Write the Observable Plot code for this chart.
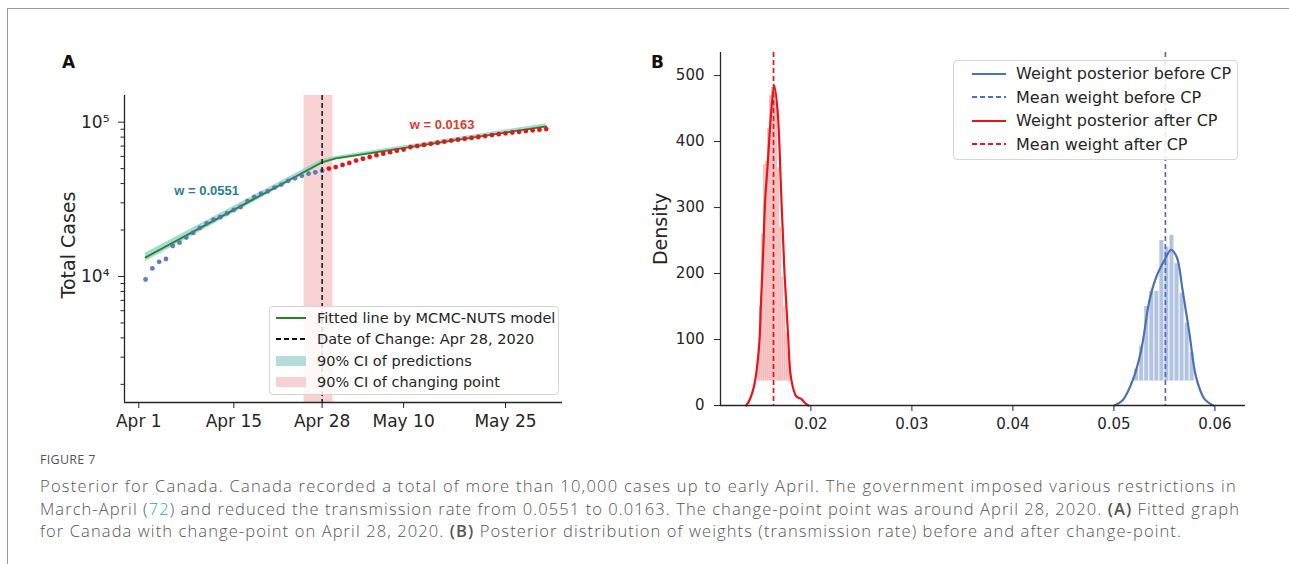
<!DOCTYPE html>
<html><head><meta charset="utf-8">
<script src="https://cdn.jsdelivr.net/npm/d3@7"></script>
<script src="https://cdn.jsdelivr.net/npm/@observablehq/plot@0.6"></script>
<style>
body{margin:0;background:#fff;width:1289px;height:564px;overflow:hidden;position:relative;font-family:"DejaVu Sans",sans-serif;}
#frame{position:absolute;left:7px;top:8px;width:1290px;height:560px;border-left:1px solid #9a9a9a;border-top:1px solid #9a9a9a;}
.panel{position:absolute;top:0;}
.letter{position:absolute;font-weight:bold;font-size:17px;color:#111;}
.legend{position:absolute;background:rgba(255,255,255,0.85);border:1px solid #d6d6d6;border-radius:4px;color:#262626;}
.legend .row{position:absolute;display:flex;align-items:center;white-space:nowrap;}
.legend svg{display:block;}
#caption{position:absolute;left:40px;top:451px;color:#555;font-family:"Open Sans",sans-serif;}
#caption .fig{font-size:12.5px;letter-spacing:0.3px;height:24px;}
#caption .ln{font-size:16.5px;line-height:22.5px;height:22.5px;white-space:nowrap;font-weight:300;}
#caption .ln span{display:inline-block;line-height:20px;}
#caption a{color:#1aa3c8;text-decoration:none;}
#caption b{font-weight:600;}
</style></head>
<body>
<div id="frame"></div>
<div id="pa" class="panel" style="left:0"></div>
<div id="pb" class="panel" style="left:620px"></div>
<div class="letter" style="left:62px;top:52px">A</div>
<div class="letter" style="left:651px;top:52px">B</div>
<div id="legA" class="legend" style="left:269px;top:306px;width:288px;height:87px;font-size:14.5px"></div>
<div id="legB" class="legend" style="left:953px;top:60px;width:283px;height:98px;font-size:16px"></div>
<div id="caption">
<div class="fig">FIGURE 7</div>
<div class="ln"><span data-w="1197">Posterior for Canada. Canada recorded a total of more than 10,000 cases up to early April. The government imposed various restrictions in</span></div>
<div class="ln"><span data-w="1200">March-April (<a>72</a>) and reduced the transmission rate from 0.0551 to 0.0163. The change-point point was around April 28, 2020. <b>(A)</b> Fitted graph</span></div>
<div class="ln"><span data-w="1142">for Canada with change-point on April 28, 2020. <b>(B)</b> Posterior distribution of weights (transmission rate) before and after change-point.</span></div>
</div>
<script>
// ---------- Panel A data ----------
const caseDates = ["2020-04-02","2020-04-03","2020-04-04","2020-04-05","2020-04-06","2020-04-07","2020-04-08","2020-04-09","2020-04-10","2020-04-11",
"2020-04-12","2020-04-13","2020-04-14","2020-04-15","2020-04-16","2020-04-17","2020-04-18","2020-04-19","2020-04-20","2020-04-21",
"2020-04-22","2020-04-23","2020-04-24","2020-04-25","2020-04-26","2020-04-27","2020-04-28","2020-04-29","2020-04-30","2020-05-01",
"2020-05-02","2020-05-03","2020-05-04","2020-05-05","2020-05-06","2020-05-07","2020-05-08","2020-05-09","2020-05-10","2020-05-11",
"2020-05-12","2020-05-13","2020-05-14","2020-05-15","2020-05-16","2020-05-17","2020-05-18","2020-05-19","2020-05-20","2020-05-21",
"2020-05-22","2020-05-23","2020-05-24","2020-05-25","2020-05-26","2020-05-27","2020-05-28","2020-05-29","2020-05-30","2020-05-31"];
const cases = [9560,11284,12437,12978,15756,16563,17872,19141,20654,22059,
23316,24298,25680,27035,28209,30808,32814,34356,35633,37658,
39402,41650,43286,44919,46371,47327,48500,50026,51150,52865,
54457,56343,57926,59474,61159,62458,63895,65399,66434,68848,
69981,71264,72419,73568,74781,75959,77002,78072,79101,80142,
81324,82480,83621,84699,85711,86647,87519,88512,89418,90179];
const changeDate = "2020-04-28";
const fitDates = ["2020-04-02","2020-04-28","2020-04-30","2020-05-31"];
const fitValues = [13300,55000,58300,94000];
const ciLow = [12500,53000,56800,91500];
const ciHigh = [14200,57400,60000,97800];
const changeCI = ["2020-04-25T08:00Z","2020-04-29T14:00Z"];
const xTickDates = ["2020-04-01","2020-04-15","2020-04-28","2020-05-10","2020-05-25"];
const xTickLabels = ["Apr 1","Apr 15","Apr 28","May 10","May 25"];
const yMajorTicks = [1e4,1e5];
const yMajorLabels = ["10\u2074","10\u2075"];
const yMinorTicks = [2000,3000,4000,5000,6000,7000,8000,9000,20000,30000,40000,50000,60000,70000,80000,90000];
const wBefore = "w = 0.0551", wAfter = "w = 0.0163";

// ---------- Panel B data ----------
const kdeAfterX = [0.01360,0.01392,0.01442,0.01487,0.01507,0.01527,0.01547,0.01572,0.01607,0.01637,0.01670,0.01706,0.01739,0.01772,0.01805,0.01855,0.01904,0.01947,0.01977];
const kdeAfterY = [0,8,33,90,160,230,310,365,445,485,447,321,200,112,40,14,10,3,0];
const kdeBeforeX = [0.05005,0.05087,0.05186,0.05269,0.05352,0.05418,0.05500,0.05566,0.05622,0.05681,0.05748,0.05814,0.05896,0.05985];
const kdeBeforeY = [0,8,38,83,159,194,220,236,225,174,109,43,10,0];
const histAfterX0 = [0.0147,0.0149,0.0151,0.0153,0.0155,0.0157,0.0159,0.0161,0.0163,0.0165,0.0167,0.0169,0.0171,0.0173,0.0175,0.0177,0.0179];
const histAfterH = [70,150,260,365,370,420,470,482,480,460,360,270,195,150,110,80,55];
const histAfterBin = 0.0002;
const histBeforeX0 = [0.0520,0.0525,0.0530,0.0535,0.0540,0.0545,0.0550,0.0555,0.0560,0.0565,0.0570,0.0575];
const histBeforeH = [55,90,150,173,173,250,240,258,215,170,125,80];
const histBeforeBin = 0.0005;
const histFloor = 37;
const meanBefore = 0.0551, meanAfter = 0.0163;
const xTicksB = [0.02,0.03,0.04,0.05,0.06];
const yTicksB = [0,100,200,300,400,500];

// ---------- colours ----------
const BLUE = "#4c72b0", RED = "#e8141b", GREEN = "#1c8a1c", TEAL = "#8ccbc8", PINK = "#f8d2d2";
const INK = "#262626";

// ---------- Panel A ----------
const caseData = caseDates.map((d,i)=>({date:new Date(d), v:cases[i]}));
const cd = new Date(changeDate);
const fitData = fitDates.map((d,i)=>({date:new Date(d), fit:fitValues[i], lo:ciLow[i], hi:ciHigh[i]}));
const xDomA = [new Date("2020-03-29T21:30Z"), new Date("2020-06-02T09:30Z")];
const yDomA = [1525, 148900];
const xTickObjs = xTickDates.map(d=>new Date(d));
const fmtXA = d => xTickLabels[xTickObjs.findIndex(t=>+t===+d)];
const fmtYA = d => { const k = yMajorTicks.findIndex(t=>Math.abs(t-d)<1e-6*t); return k<0 ? "" : yMajorLabels[k]; };

const chartA = Plot.plot({
  width: 620, height: 440,
  marginLeft: 124, marginRight: 58, marginTop: 95, marginBottom: 38,
  x: {type: "utc", domain: xDomA},
  y: {type: "log", domain: yDomA},
  style: {fontFamily: "DejaVu Sans", color: INK, background: "transparent"},
  marks: [
    Plot.rect([changeCI], {x1: d=>new Date(d[0]), x2: d=>new Date(d[1]), fill: PINK}),
    Plot.areaY(fitData, {x: "date", y1: "lo", y2: "hi", fill: TEAL, fillOpacity: 0.75}),
    Plot.line(fitData, {x: "date", y: "fit", stroke: GREEN, strokeWidth: 1.8}),
    Plot.dot(caseData, {filter: d=>d.date<=cd, x: "date", y: "v", r: 2.4, fill: BLUE, fillOpacity: 0.9}),
    Plot.dot(caseData, {filter: d=>d.date>cd, x: "date", y: "v", r: 2.4, fill: RED}),
    Plot.ruleX([cd], {stroke: "#111", strokeWidth: 1.5, strokeDasharray: "5,3"}),
    Plot.text([wBefore], {x: new Date("2020-04-11T00:00Z"), y: 35700, text: d=>d, fill: "#2b7d98", fontWeight: "bold", fontSize: 13, fontFamily: "Liberation Sans"}),
    Plot.text([wAfter], {x: new Date("2020-05-15T16:00Z"), y: 96600, text: d=>d, fill: "#df3a2c", fontWeight: "bold", fontSize: 13, fontFamily: "Liberation Sans"}),
    Plot.ruleX([xDomA[0]], {stroke: INK, strokeWidth: 1.3}),
    Plot.ruleY([yDomA[0]], {stroke: INK, strokeWidth: 1.3}),
    Plot.axisX({ticks: xTickObjs, tickFormat: fmtXA, tickSize: 6, tickPadding: 6, fontSize: 17, label: null}),
    Plot.axisY({ticks: yMajorTicks, tickFormat: fmtYA, tickSize: 6, tickPadding: 9, fontSize: 17, label: null}),
    Plot.axisY({ticks: yMinorTicks, tickFormat: ()=>"", tickSize: 3.5, label: null}),
    Plot.text(["Total Cases"], {frameAnchor: "left", textAnchor: "middle", rotate: -90, dx: -56, dy: -4, fontSize: 19, fill: INK})
  ]
});
document.getElementById("pa").appendChild(chartA);

// ---------- Panel B ----------
const kdeAfter = kdeAfterX.map((x,i)=>({x, y:kdeAfterY[i]}));
const kdeBefore = kdeBeforeX.map((x,i)=>({x, y:kdeBeforeY[i]}));
const binsAfter = histAfterX0.map((x,i)=>({x1:x, x2:x+histAfterBin, h:histAfterH[i]}));
const binsBefore = histBeforeX0.map((x,i)=>({x1:x, x2:x+histBeforeBin, h:histBeforeH[i]}));
const xDomB = [0.01105, 0.06303];
const chartB = Plot.plot({
  width: 669, height: 440,
  marginLeft: 100, marginRight: 44, marginTop: 52, marginBottom: 35,
  x: {domain: xDomB},
  y: {domain: [0, 535]},
  style: {fontFamily: "DejaVu Sans", color: INK, background: "transparent"},
  marks: [
    Plot.rect(binsAfter, {x1: "x1", x2: "x2", y1: histFloor, y2: "h", fill: "#f5b3b3", insetLeft: 0.2, insetRight: 0.2}),
    Plot.rect(binsBefore, {x1: "x1", x2: "x2", y1: histFloor, y2: "h", fill: "#b3c4e2", insetLeft: 0.5, insetRight: 0.5}),
    Plot.line(kdeAfter, {x: "x", y: "y", stroke: RED, strokeWidth: 2.2, curve: "catmull-rom"}),
    Plot.line(kdeBefore, {x: "x", y: "y", stroke: BLUE, strokeWidth: 2.2, curve: "catmull-rom"}),
    Plot.ruleX([meanAfter], {stroke: RED, strokeWidth: 1.7, strokeDasharray: "5,3"}),
    Plot.ruleX([meanBefore], {stroke: BLUE, strokeWidth: 1.7, strokeDasharray: "5,3"}),
    Plot.ruleX([xDomB[0]], {stroke: INK, strokeWidth: 1.3}),
    Plot.ruleY([0], {stroke: INK, strokeWidth: 1.3}),
    Plot.axisX({ticks: xTicksB, tickFormat: d3.format(".2f"), tickSize: 6, tickPadding: 7, fontSize: 15, label: null}),
    Plot.axisY({ticks: yTicksB, tickSize: 6, tickPadding: 10, fontSize: 15, label: null}),
    Plot.text(["Density"], {frameAnchor: "left", textAnchor: "middle", rotate: -90, dx: -60, fontSize: 19, fill: INK})
  ]
});
document.getElementById("pb").appendChild(chartB);

// ---------- Legends ----------
function sample(kind, color, w){
  const h = 12;
  if (kind === "patch") return `<svg width="${w}" height="${h}"><rect x="0" y="1" width="${w}" height="10" fill="${color}"/></svg>`;
  const dash = kind === "dash" ? ' stroke-dasharray="5,3"' : '';
  return `<svg width="${w}" height="${h}"><line x1="0" x2="${w}" y1="6" y2="6" stroke="${color}" stroke-width="2"${dash}/></svg>`;
}
const legAItems = [["line",GREEN,"Fitted line by MCMC-NUTS model"],["dash","#111","Date of Change: Apr 28, 2020"],["patch","#b3dcda","90% CI of predictions"],["patch",PINK,"90% CI of changing point"]];
document.getElementById("legA").innerHTML = legAItems.map((it,i)=>
  `<div class="row" style="top:${3+i*21.3}px;height:16px;left:6px">${sample(it[0],it[1],30)}<span style="margin-left:11px">${it[2]}</span></div>`).join("");
const legBItems = [["line",BLUE,"Weight posterior before CP"],["dash",BLUE,"Mean weight before CP"],["line",RED,"Weight posterior after CP"],["dash",RED,"Mean weight after CP"]];
document.getElementById("legB").innerHTML = legBItems.map((it,i)=>
  `<div class="row" style="top:${3+i*23.6}px;height:19px;left:18px">${sample(it[0],it[1],34)}<span style="margin-left:10px">${it[2]}</span></div>`).join("");

// stretch each caption line to the reference line length with letter-spacing
document.querySelectorAll("#caption .ln span").forEach(sp => {
  const target = +sp.dataset.w;
  const w = sp.getBoundingClientRect().width;
  const n = sp.textContent.length;
  sp.style.letterSpacing = ((target - w) / n) + "px";
});
</script>
</body></html>
